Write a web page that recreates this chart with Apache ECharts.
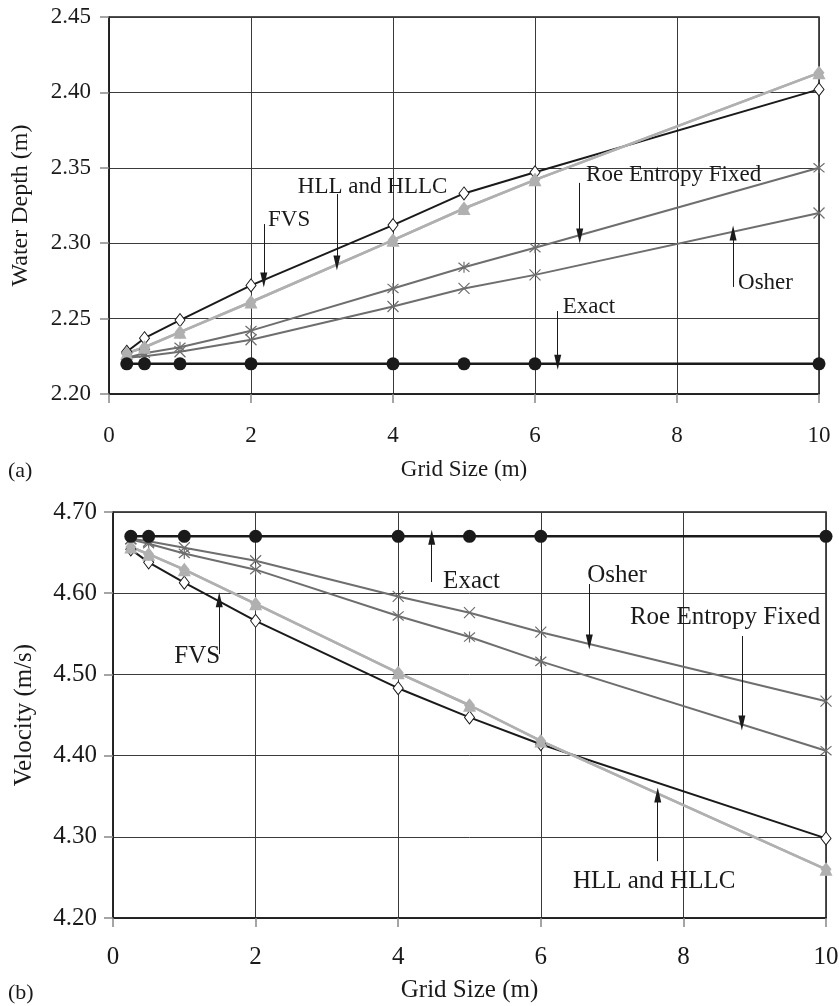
<!DOCTYPE html>
<html>
<head>
<meta charset="utf-8">
<script src="https://cdn.jsdelivr.net/npm/echarts@6/dist/echarts.min.js"></script>
<style>
  html, body { margin: 0; padding: 0; background: #fff; }
  #chart { width: 839px; height: 1006px; }
</style>
</head>
<body>
<div id="chart"></div>
<script>
// Grid sizes (m) at which each scheme was run
const gridSize = [0.25, 0.5, 1, 2, 4, 5, 6, 10];

// (a) Water depth (m)
const depthExact = [2.22, 2.22, 2.22, 2.22, 2.22, 2.22, 2.22, 2.22];
const depthFVS   = [2.228, 2.237, 2.249, 2.272, 2.312, 2.333, 2.347, 2.402];
const depthHLL   = [2.227, 2.231, 2.241, 2.261, 2.302, 2.323, 2.342, 2.413];
const depthHLLC  = [2.227, 2.231, 2.241, 2.261, 2.302, 2.323, 2.342, 2.413];
const depthRoe   = [2.224, 2.227, 2.231, 2.242, 2.270, 2.284, 2.297, 2.350];
const depthOsher = [2.224, 2.225, 2.228, 2.236, 2.258, 2.270, 2.279, 2.320];

// (b) Velocity (m/s)
const velExact = [4.67, 4.67, 4.67, 4.67, 4.67, 4.67, 4.67, 4.67];
const velFVS   = [4.654, 4.638, 4.613, 4.566, 4.483, 4.447, 4.414, 4.298];
const velHLL   = [4.657, 4.648, 4.629, 4.587, 4.502, 4.462, 4.418, 4.260];
const velHLLC  = [4.657, 4.648, 4.629, 4.587, 4.502, 4.462, 4.418, 4.260];
const velRoe   = [4.666, 4.661, 4.649, 4.629, 4.572, 4.546, 4.516, 4.406];
const velOsher = [4.667, 4.664, 4.656, 4.640, 4.596, 4.576, 4.552, 4.467];

// Axis ticks
const xTicks = [0, 2, 4, 6, 8, 10];
const depthTicks = [2.20, 2.25, 2.30, 2.35, 2.40, 2.45];
const velTicks = [4.20, 4.30, 4.40, 4.50, 4.60, 4.70];

// Callouts: label, label anchor [x, y], arrow x, arrow from y, arrow tip y
const depthNotes = [
  ['FVS',               [2.24, 2.3154], 2.18, 2.3127, 2.2756],
  ['HLL and HLLC',      [2.66, 2.3373], 3.21, 2.3326, 2.2869],
  ['Roe Entropy Fixed', [6.72, 2.3452], 6.63, 2.3400, 2.3048],
  ['Osher',             [8.86, 2.2736], 8.79, 2.2710, 2.3067],
  ['Exact',             [6.39, 2.2577], 6.32, 2.2550, 2.2210]
];
const velNotes = [
  ['FVS',               [0.86, 4.5227], 1.49, 4.5250, 4.5920],
  ['Exact',             [4.63, 4.6150], 4.47, 4.6138, 4.6690],
  ['Osher',             [6.65, 4.6224], 6.68, 4.6113, 4.5400],
  ['Roe Entropy Fixed', [7.25, 4.5707], 8.82, 4.5473, 4.4400],
  ['HLL and HLLC',      [6.45, 4.2456], 7.64, 4.2700, 4.3515]
];

const FONT = '"Liberation Serif", "Times New Roman", serif';
const INK = '#1a1a1a';
const DARK_GREY = '#6e6e6e';
const LIGHT_GREY = '#b0b0b0';
const ARROW = 'path://M5,0L10,22L0,22Z';
const ASTERISK = 'path://M0,0L10,10M10,0L0,10M5,-1L5,11';
const CROSS = 'path://M0,0L10,10M10,0L0,10';

const pairs = ys => gridSize.map((x, i) => [x, ys[i]]);

function makeSeries(idx, set, notes, fs) {
  const base = { type: 'line', xAxisIndex: idx, yAxisIndex: idx, silent: true, animation: false, z: 3 };
  const out = [];
  out.push(Object.assign({}, base, {
    name: 'Roe Entropy Fixed', data: pairs(set.roe),
    lineStyle: { color: DARK_GREY, width: 2 },
    symbol: ASTERISK, symbolSize: 11,
    itemStyle: { color: 'none', borderColor: DARK_GREY, borderWidth: 1.2 }
  }));
  out.push(Object.assign({}, base, {
    name: 'Osher', data: pairs(set.osher),
    lineStyle: { color: DARK_GREY, width: 2 },
    symbol: CROSS, symbolSize: 11,
    itemStyle: { color: 'none', borderColor: DARK_GREY, borderWidth: 1.2 }
  }));
  out.push(Object.assign({}, base, {
    name: 'FVS', data: pairs(set.fvs),
    lineStyle: { color: INK, width: 2 },
    symbol: 'diamond', symbolSize: [10, 13],
    itemStyle: { color: '#fff', borderColor: INK, borderWidth: 1 }
  }));
  out.push(Object.assign({}, base, {
    name: 'HLL', data: pairs(set.hll),
    lineStyle: { color: LIGHT_GREY, width: 2.5 },
    symbol: 'diamond', symbolSize: [11, 14],
    itemStyle: { color: LIGHT_GREY }
  }));
  out.push(Object.assign({}, base, {
    name: 'HLLC', data: pairs(set.hllc),
    lineStyle: { color: LIGHT_GREY, width: 2.5 },
    symbol: 'triangle', symbolSize: 13,
    itemStyle: { color: LIGHT_GREY }
  }));
  out.push(Object.assign({}, base, {
    name: 'Exact', data: pairs(set.exact),
    lineStyle: { color: INK, width: 2.5 },
    symbol: 'circle', symbolSize: 13,
    itemStyle: { color: INK },
    markLine: {
      silent: true, animation: false,
      symbol: ['none', ARROW], symbolSize: [7, 15],
      lineStyle: { color: INK, width: 1, type: 'solid' },
      label: { show: false },
      data: notes.map(n => [{ coord: [n[2], n[3]] }, { coord: [n[2], n[4]] }])
    },
    markPoint: {
      silent: true, animation: false,
      symbol: 'circle', symbolSize: 0,
      label: {
        show: true, position: 'right', distance: 0, formatter: '{b}',
        fontFamily: FONT, fontSize: fs, color: INK
      },
      data: notes.map(n => ({ name: n[0], coord: n[1] }))
    }
  }));
  return out;
}

function xAxis(idx, fs, margin, nameGap) {
  return {
    type: 'value', gridIndex: idx, min: xTicks[0], max: xTicks[xTicks.length - 1], interval: 2,
    name: 'Grid Size (m)', nameLocation: 'middle', nameGap: nameGap,
    nameTextStyle: { fontFamily: FONT, fontSize: fs, color: INK },
    axisLine: { show: true, onZero: false, lineStyle: { color: INK, width: 1.5 } },
    axisTick: { show: true, inside: false, length: 9, lineStyle: { color: '#888', width: 1.5 } },
    axisLabel: { fontFamily: FONT, fontSize: fs, color: INK, margin: margin, formatter: v => String(v) },
    splitLine: { show: true, lineStyle: { color: '#3a3a3a', width: 1 } }
  };
}

function yAxis(idx, ticks, name, fs, nameFs, nameGap, margin) {
  return {
    type: 'value', gridIndex: idx, min: ticks[0], max: ticks[ticks.length - 1],
    interval: +(ticks[1] - ticks[0]).toFixed(2),
    name: name, nameLocation: 'middle', nameRotate: 90, nameGap: nameGap,
    nameTextStyle: { fontFamily: FONT, fontSize: nameFs, color: INK },
    axisLine: { show: true, lineStyle: { color: INK, width: 1.5 } },
    axisTick: { show: true, inside: false, length: 9, lineStyle: { color: '#888', width: 1.5 } },
    axisLabel: { fontFamily: FONT, fontSize: fs, color: INK, margin: margin, formatter: v => v.toFixed(2) },
    splitLine: { show: true, lineStyle: { color: '#3a3a3a', width: 1 } }
  };
}

const chart = echarts.init(document.getElementById('chart'), null, { renderer: 'canvas' });
chart.setOption({
  backgroundColor: '#fff',
  animation: false,
  grid: [
    { left: 109, top: 17, width: 710, height: 377, show: true, borderColor: INK, borderWidth: 1.5,
      containLabel: false, outerBoundsMode: 'none' },
    { left: 113, top: 512, width: 713, height: 406, show: true, borderColor: INK, borderWidth: 1.5,
      containLabel: false, outerBoundsMode: 'none' }
  ],
  xAxis: [xAxis(0, 23, 30, 64), xAxis(1, 25, 27, 60)],
  yAxis: [
    yAxis(0, depthTicks, 'Water Depth (m)', 23, 24, 76, 18),
    yAxis(1, velTicks, 'Velocity (m/s)', 25, 25, 76, 16)
  ],
  graphic: [
    { type: 'text', left: 8, top: 460, style: { text: '(a)', font: '22px ' + FONT, fill: INK } },
    { type: 'text', left: 8, top: 982, style: { text: '(b)', font: '22px ' + FONT, fill: INK } }
  ],
  series: [].concat(
    makeSeries(0, { exact: depthExact, fvs: depthFVS, hll: depthHLL, hllc: depthHLLC, roe: depthRoe, osher: depthOsher }, depthNotes, 23),
    makeSeries(1, { exact: velExact, fvs: velFVS, hll: velHLL, hllc: velHLLC, roe: velRoe, osher: velOsher }, velNotes, 25)
  )
});
</script>
</body>
</html>
